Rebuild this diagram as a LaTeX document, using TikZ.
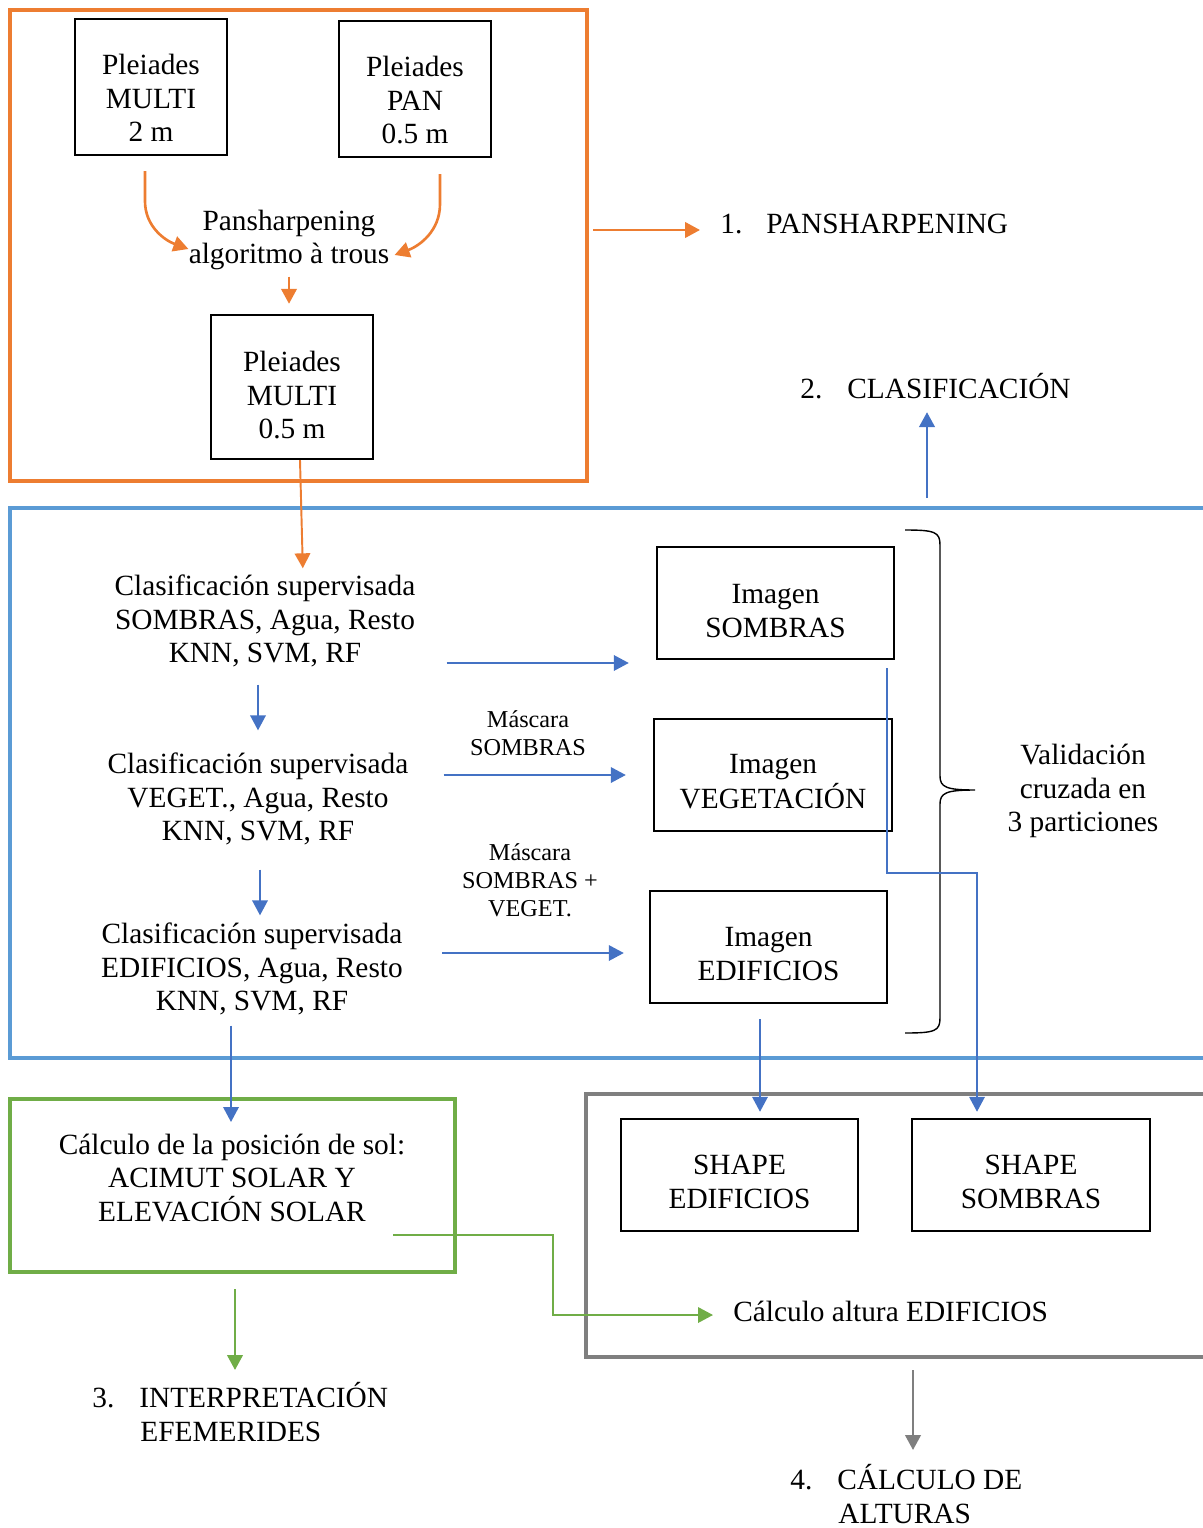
\documentclass[tikz,border=0pt]{standalone}
\usepackage{fontspec}
\setmainfont{Liberation Serif}
\usetikzlibrary{arrows.meta,positioning}

\definecolor{naranja}{HTML}{ED7D31}
\definecolor{azul}{HTML}{4472C4}
\definecolor{azulmarco}{HTML}{5B9BD5}
\definecolor{verde}{HTML}{70AD47}
\definecolor{gris}{HTML}{7F7F7F}

% texto de caja, algo mas bajo que el centro
\newcommand{\cajatxt}[2]{\begin{tabular}{@{}c@{}}\rule{0pt}{#1}#2\end{tabular}}

\tikzset{
	caja/.style={draw=black, line width=1.4pt, inner sep=0pt},
	texto/.style={align=center, inner sep=0pt},
	etiqueta/.style={align=center, inner sep=0pt, font=\fontsize{13.8}{16}\selectfont},
	paso/.style={align=left, inner sep=0pt},
	flecha/.style={line width=1.1pt, -{Triangle[length=0.3cm,width=0.31cm]}},
	flechaN/.style={flecha, naranja, line width=1.5pt}
}

\begin{document}
\begin{tikzpicture}[x=0.02cm, y=-0.02cm, font=\fontsize{16.7}{19.2}\selectfont]
			%%%%% START %%%%%
			\useasboundingbox (0,0) rectangle (1203,1528);
			
			% pansharpening
			\draw[naranja, line width=1.9pt] (10,10) rectangle (587,481);
			\node[caja, minimum width=3.04cm, minimum height=2.72cm] (multiDos) at (151,87) {\cajatxt{1.05cm}{Pleiades\\MULTI\\2 m}};
			\node[caja, minimum width=3.04cm, minimum height=2.72cm] (pan) at (415,89) {\cajatxt{1.05cm}{Pleiades\\PAN\\0.5 m}};
			\node[texto] (pansh) at (289,240) {Pansharpening\\algoritmo à trous};
			\node[caja, minimum width=3.24cm, minimum height=2.88cm] (multiMedio) at (292,387) {\cajatxt{0.93cm}{Pleiades\\MULTI\\0.5 m}};
			
			\draw[flechaN] ([xshift=-0.12cm,yshift=-0.3cm]multiDos.south) -- ++(0,30) to[out=-90, in=160] ([yshift=-0.18cm]pansh.west);
			\draw[flechaN] ([xshift=0.5cm,yshift=-0.32cm]pan.south) -- ++(0,30) to[out=-90, in=20] ([xshift=0.1cm,yshift=-0.3cm]pansh.east);
			\draw[flechaN, shorten <=0.12cm, shorten >=0.2cm] (pansh.south) -- (pansh.south |- multiMedio.north);
			
			\coordinate (marcoN) at (593,230);
			\node[paso, anchor=west] (paso1) at (720,224) {\makebox[0.92cm][l]{1.}PANSHARPENING};
			\draw[flechaN, shorten >=0.4cm] (marcoN) -- (marcoN -| paso1.west);
			
			% clasificacion
			\draw[azulmarco, line width=1.9pt] (1204,508) -- (10,508) -- (10,1058) -- (1204,1058);
			\coordinate (azulN) at (927,498);
			\node[paso, anchor=west] (paso2) at (800,386) {\makebox[0.94cm][l]{2.}CLASIFICACIÓN};
			\draw[flecha, azul, line width=1.5pt, shorten >=0.26cm] (azulN) -- (azulN |- paso2.south);
			
			\node[texto] (clasA) at (265,621) {Clasificación supervisada\\SOMBRAS, Agua, Resto\\KNN, SVM, RF};
			\node[texto] (clasB) at (258,799) {Clasificación supervisada\\VEGET., Agua, Resto\\KNN, SVM, RF};
			\node[texto] (clasC) at (252,969) {Clasificación supervisada\\EDIFICIOS, Agua, Resto\\KNN, SVM, RF};
			
			\draw[flechaN, line width=1.1pt, shorten >=0.12cm] ([xshift=0.16cm]multiMedio.south) -- ([xshift=0.76cm]clasA.north);
			\draw[flecha, azul, shorten <=0.34cm, shorten >=0.44cm] (clasA.south -| clasB) -- (clasB.north);
			\draw[flecha, azul, shorten <=0.48cm, shorten >=0.14cm] (clasB.south -| 260,0) -- (clasC.north -| 260,0);
			
			\node[caja, minimum width=4.74cm, minimum height=2.24cm] (imgSombras) at (775.5,603) {\cajatxt{0.89cm}{Imagen\\SOMBRAS}};
			\node[caja, minimum width=4.76cm, minimum height=2.24cm] (imgVeg) at (773,775) {\cajatxt{0.83cm}{Imagen\\VEGETACIÓN}};
			\node[caja, minimum width=4.74cm, minimum height=2.24cm] (imgEdif) at (768.5,947) {\cajatxt{0.85cm}{Imagen\\EDIFICIOS}};
			
			\node[etiqueta] (mascA) at (528,733) {Máscara\\SOMBRAS};
			\node[etiqueta] (mascB) at (530,880) {Máscara\\SOMBRAS +\\VEGET.};
			
			\draw[flecha, azul, shorten <=0.62cm, shorten >=0.54cm] ([yshift=-0.84cm]clasA.east) -- ([yshift=-0.84cm]clasA.east -| imgSombras.west);
			\draw[flecha, azul, shorten <=0.7cm, shorten >=0.54cm] ([yshift=0.48cm]clasB.east) -- ([yshift=0.48cm]clasB.east -| imgVeg.west);
			\draw[flecha, azul, shorten <=0.78cm, shorten >=0.5cm] ([yshift=0.32cm]clasC.east) -- ([yshift=0.32cm]clasC.east -| imgEdif.west);
			
			% llave
			\draw[line width=0.8pt] (905,530) .. controls (935,530) and (940,532) .. (940,545) -- (940,776) .. controls (940,787) and (946,790) .. (975,790) .. controls (946,790) and (940,793) .. (940,804) -- (940,1018) .. controls (940,1031) and (935,1033) .. (905,1033);
			\node[texto] (valid) at (1083,791) {Validación\\cruzada en\\3 particiones};
			
			% alturas
			\draw[gris, line width=2.8pt] (1204,1094) -- (586,1094) -- (586,1357) -- (1204,1357);
			\node[caja, minimum width=4.74cm, minimum height=2.24cm] (shapeEdif) at (739.5,1175) {\cajatxt{0.87cm}{SHAPE\\EDIFICIOS}};
			\node[caja, minimum width=4.76cm, minimum height=2.24cm] (shapeSombras) at (1031,1175) {\cajatxt{0.87cm}{SHAPE\\SOMBRAS}};
			\node[texto, anchor=west] (alturaEd) at (733,1311) {Cálculo altura EDIFICIOS};
			
			\draw[flecha, azul, shorten <=0.16cm, shorten >=0.12cm] ([xshift=-0.16cm]imgSombras.south east) -- ++(0,213) -| ([xshift=-1.08cm]shapeSombras.north);
			\draw[flecha, azul, shorten <=0.3cm, shorten >=0.12cm] ([xshift=-0.17cm]imgEdif.south) -- ([xshift=-0.17cm]imgEdif.south |- shapeEdif.north);
			
			\coordinate (grisS) at (913,1370);
			\node[paso, anchor=north west] (paso4) at (790,1464) {\makebox[0.94cm][l]{4.}CÁLCULO DE\\\hspace*{0.96cm}ALTURAS};
			\draw[flecha, gris, line width=1.5pt] (grisS) -- ++(0,80);
			
			% efemerides
			\draw[verde, line width=1.9pt] (10,1099) rectangle (455,1272);
			\node[texto] (solPos) at (232,1178) {Cálculo de la posición de sol:\\ACIMUT SOLAR Y\\ELEVACIÓN SOLAR};
			\draw[flecha, azul, shorten <=0.2cm] (clasC.south -| 231,0) -- (231,1122);
			
			\coordinate (solSal) at (393,1235);
			\draw[flecha, verde, shorten >=0.4cm] (solSal) -- ++(160,0) |- ([yshift=-0.08cm]alturaEd.west);
			
			\coordinate (verdeS) at (235,1289);
			\node[paso, anchor=north west] (paso3) at (92,1382) {\makebox[0.94cm][l]{3.}INTERPRETACIÓN\\\hspace*{0.96cm}EFEMERIDES};
			\draw[flecha, verde, line width=1.5pt] (verdeS) -- ++(0,81);
			
			%%%%% END %%%%%
\end{tikzpicture}
\end{document}
